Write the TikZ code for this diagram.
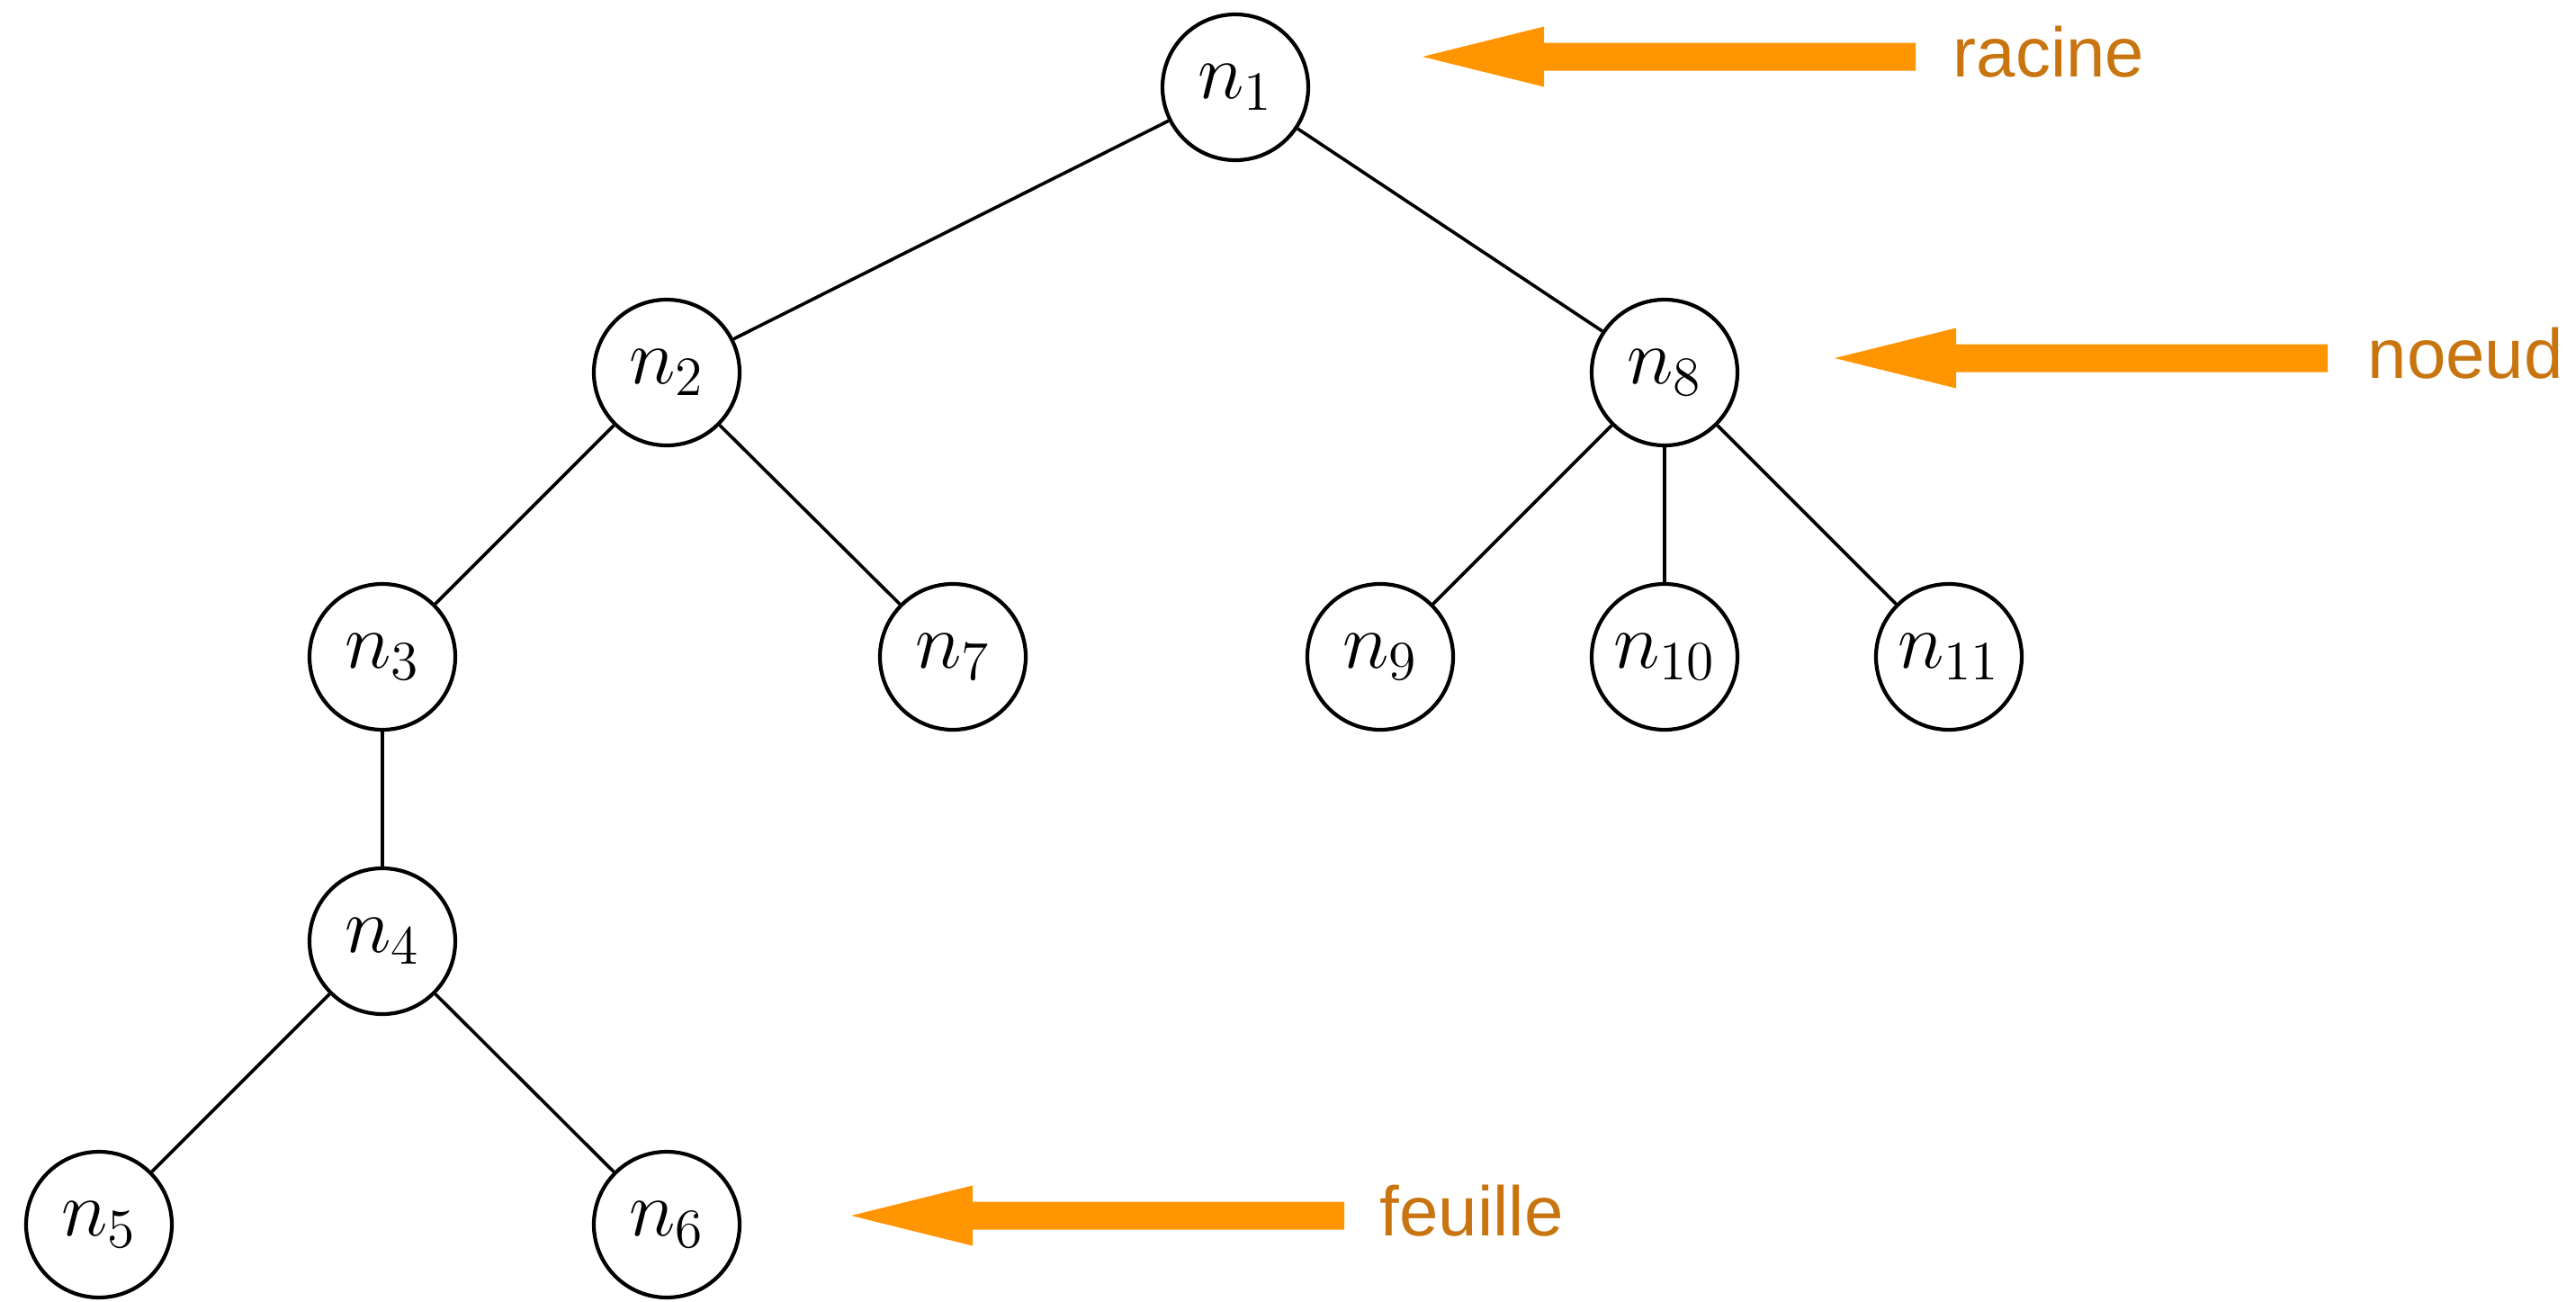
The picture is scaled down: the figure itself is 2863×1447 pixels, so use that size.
\RequirePackage{fix-cm}
\documentclass[tikz,border=0pt]{standalone}
\usepackage{fontspec}
\newfontfamily\labfont{Liberation Sans}
\definecolor{arrowor}{RGB}{255,149,0}
\definecolor{labor}{RGB}{200,117,15}
\newcommand{\orarrow}[1]{%
  \fill[arrowor] (#1) -- ++(135,-33.5) -- ++(0,18) -- ++(413,0) -- ++(0,31)
    -- ++(-413,0) -- ++(0,18) -- cycle;}
\begin{document}
\begin{tikzpicture}[x=0.25pt,y=-0.25pt,
  tn/.style={circle,draw,line width=1.05pt,minimum size=40.5pt,inner sep=0pt,
    font=\fontsize{22}{26}\selectfont},
  edge/.style={line width=0.9pt},
  lab/.style={anchor=base west,inner sep=0pt,text=labor,
    font=\labfont\fontsize{19.5}{23}\selectfont}]
\useasboundingbox (0,0) rectangle (2863,1447);
% nodes
\node[tn] (n1) at (1373,97) {$n_1$};
\node[tn] (n2) at (741,414) {$n_2$};
\node[tn] (n8) at (1850,414) {$n_8$};
\node[tn] (n3) at (425,730) {$n_3$};
\node[tn] (n7) at (1059,730) {$n_7$};
\node[tn] (n9) at (1534,730) {$n_9$};
\node[tn] (n10) at (1850,730) {$n_{10}$};
\node[tn] (n11) at (2166,730) {$n_{11}$};
\node[tn] (n4) at (425,1046) {$n_4$};
\node[tn] (n5) at (110,1361) {$n_5$};
\node[tn] (n6) at (741,1361) {$n_6$};
% edges
\draw[edge] (n1) -- (n2);
\draw[edge] (n1) -- (n8);
\draw[edge] (n2) -- (n3);
\draw[edge] (n2) -- (n7);
\draw[edge] (n3) -- (n4);
\draw[edge] (n4) -- (n5);
\draw[edge] (n4) -- (n6);
\draw[edge] (n8) -- (n9);
\draw[edge] (n8) -- (n10);
\draw[edge] (n8) -- (n11);
% labels
\node[lab] (racine) at (2170,85) {racine};
\node[lab] (noeud) at (2631,420) {noeud};
\node[lab] (feuille) at (1533,1373) {feuille};
% arrows
\coordinate (tipr) at (1581,63);
\coordinate (tipn) at (2039,398);
\coordinate (tipf) at (946,1351);
\orarrow{tipr}
\orarrow{tipn}
\orarrow{tipf}
\end{tikzpicture}
\end{document}
